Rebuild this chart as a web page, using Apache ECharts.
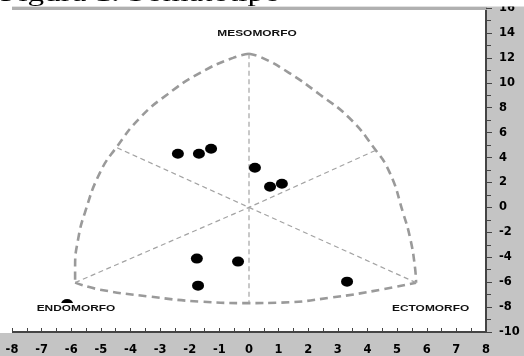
<!DOCTYPE html>
<html><head><meta charset="utf-8">
<script src="https://cdn.jsdelivr.net/npm/echarts@6/dist/echarts.min.js"></script>
<style>html,body{margin:0;padding:0;background:#fff}#c{width:524px;height:356px}</style>
</head><body><div id="c"></div>
<script>
// Somatotype points (X = ecto - endo, Y = 2*meso - (endo+ecto))
const dotX = [-2.40, -1.69, -1.28, 0.20, 0.71, 1.11, -1.76, -0.37, -1.72, 3.31, -6.14];
const dotY = [4.31, 4.31, 4.71, 3.18, 1.66, 1.90, -4.11, -4.35, -6.28, -5.96, -7.76];

// Somatochart outline
const leftArcX = [0, -0.54, -1.65, -2.77, -3.68, -4.46, -5.03, -5.54, -5.77, -5.87, -5.87];
const leftArcY = [12.33, 12.0, 10.8, 9.04, 7.19, 4.87, 2.79, -0.43, -2.58, -4.76, -6.04];
const rightArcX = [0, 0.45, 1.35, 2.4, 3.38, 4.19, 4.75, 5.2, 5.45, 5.6, 5.64];
const rightArcY = [12.33, 12.0, 10.8, 9.04, 7.19, 4.87, 2.79, -0.43, -2.58, -4.76, -6.04];
const bottomArcX = [-5.87, -5.03, -3.34, -1.65, 0, 1.08, 2.77, 4.46, 5.64];
const bottomArcY = [-6.04, -6.6, -7.16, -7.56, -7.68, -7.64, -7.24, -6.6, -6.04];
const endoLineX = [-5.87, 0, 4.25];
const endoLineY = [-6.04, 0, 4.55];
const ectoLineX = [5.64, 0, -4.46];
const ectoLineY = [-6.04, 0, 4.79];
const mesoLineX = [0, 0];
const mesoLineY = [12.33, -7.66];

const poleNames = ['MESOMORFO', 'ENDOMORFO', 'ECTOMORFO'];
const poleX = [0.27, -5.84, 6.13];
const poleY = [13.93, -8.12, -8.12];

const titleText = 'Figura 1. Somatotipo';
const xMin = -8, xMax = 8, yMin = -10, yMax = 16;

const zip = (a, b) => a.map((v, i) => [v, b[i]]);
const G = {left: 12, right: 38, top: 8, bottom: 23};
const W = 524, H = 356;

const thick = {color: '#9a9a9a', width: 2.6, type: [8, 5]};
const thin = {color: '#a3a3a3', width: 1.2, type: [5, 3.5]};

function lineSeries(x, y, style, smooth) {
  return {type: 'line', data: zip(x, y), smooth: smooth, showSymbol: false, symbol: 'none',
    lineStyle: style, silent: true, z: 2, animation: false};
}

const chart = echarts.init(document.getElementById('c'), null, {renderer: 'canvas'});
const axisTextStyle = {fontFamily: 'DejaVu Sans', fontWeight: 'bold', fontSize: 11.5, color: '#000'};
const option = {
  animation: false,
  backgroundColor: '#c4c4c4',
  grid: {left: G.left, right: G.right, top: G.top, bottom: G.bottom, show: true, backgroundColor: '#fff', borderWidth: 0},
  xAxis: [{
    type: 'value', min: xMin, max: xMax, interval: 1,
    axisLine: {show: true, onZero: false, lineStyle: {color: '#444', width: 2}},
    axisTick: {show: true, inside: true, length: 4, lineStyle: {color: '#444', width: 1}},
    minorTick: {show: true, splitNumber: 2, length: 4, lineStyle: {color: '#444', width: 1}},
    axisLabel: Object.assign({margin: 12, showMinLabel: true, showMaxLabel: true}, axisTextStyle),
    splitLine: {show: false}
  }, {
    type: 'value', position: 'top', min: xMin, max: xMax,
    axisLine: {show: true, onZero: false, lineStyle: {color: '#b0b0b0', width: 3}},
    axisTick: {show: false}, axisLabel: {show: false}, splitLine: {show: false}
  }],
  yAxis: {
    type: 'value', position: 'right', min: yMin, max: yMax, interval: 2,
    axisLine: {show: true, onZero: false, lineStyle: {color: '#444', width: 2}},
    axisTick: {show: true, length: 6, lineStyle: {color: '#444', width: 1}},
    minorTick: {show: true, splitNumber: 2, length: 5, lineStyle: {color: '#444', width: 1}},
    axisLabel: Object.assign({margin: 13, showMinLabel: true, showMaxLabel: true}, axisTextStyle),
    splitLine: {show: false}
  },
  series: [
    lineSeries(leftArcX, leftArcY, thick, true),
    lineSeries(rightArcX, rightArcY, thick, true),
    lineSeries(bottomArcX, bottomArcY, thick, true),
    lineSeries(endoLineX, endoLineY, thin, false),
    lineSeries(ectoLineX, ectoLineY, thin, false),
    lineSeries(mesoLineX, mesoLineY, thin, false),
    {type: 'scatter', data: zip(dotX, dotY), symbol: 'circle', symbolSize: [12, 10],
      itemStyle: {color: '#000', opacity: 1}, z: 5, silent: true}
  ]
};
chart.setOption(option);

const graphics = [
  {type: 'rect', shape: {x: 0, y: 0, width: G.left, height: H - G.bottom}, style: {fill: '#fff'}, z: 50, silent: true},
  {type: 'rect', shape: {x: 0, y: 0, width: W, height: 6.5}, style: {fill: '#fff'}, z: 50, silent: true},
  {type: 'text', x: 0, y: -5, scaleX: 1.38, z: 60, silent: true,
    style: {text: titleText, fontFamily: 'Liberation Serif', fontSize: 24, fill: '#000', align: 'left', verticalAlign: 'middle'}}
];
poleNames.forEach((n, i) => {
  const p = chart.convertToPixel({xAxisIndex: 0, yAxisIndex: 0}, [poleX[i], poleY[i]]);
  graphics.push({type: 'text', x: p[0], y: p[1], scaleX: 1.4, z: 40, silent: true,
    style: {text: n, fontFamily: 'Liberation Sans', fontWeight: 'bold', fontSize: 8.5, fill: '#111',
      align: 'center', verticalAlign: 'middle', backgroundColor: i === 1 ? '#fff' : null, padding: [1, 2]}});
});
chart.setOption({graphic: graphics});
</script></body></html>
